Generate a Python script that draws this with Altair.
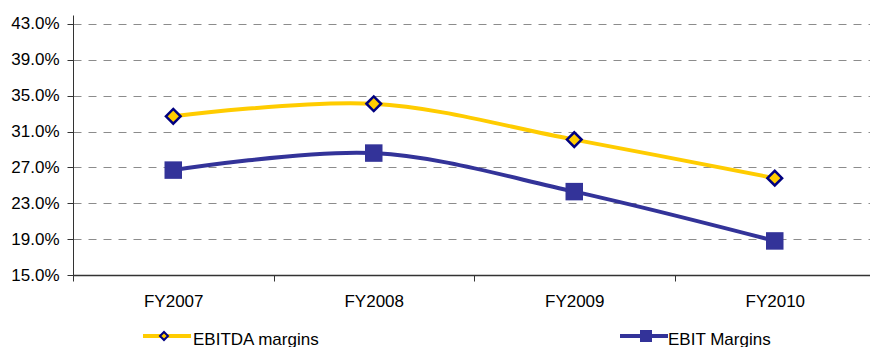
import altair as alt
import pandas as pd

# Margin data (percent)
years = ["FY2007", "FY2008", "FY2009", "FY2010"]
ebitda_margins = [32.7, 34.1, 30.1, 25.8]
ebit_margins = [26.7, 28.6, 24.3, 18.8]
series_names = ["EBITDA margins", "EBIT Margins"]
y_ticks = [15.0, 19.0, 23.0, 27.0, 31.0, 35.0, 39.0, 43.0]

rows = []
for name, vals in zip(series_names, [ebitda_margins, ebit_margins]):
    for i, (yr, v) in enumerate(zip(years, vals)):
        rows.append({"series": name, "year": yr, "pos": i, "margin": v})
df = pd.DataFrame(rows)

# Styling
FONT = "Liberation Sans"
YELLOW = "#FFCC00"
NAVY = "#333399"
DIAMOND_EDGE = "#000080"
AXIS_COLOR = "#333333"

W, H = 797, 260
X_DOMAIN = [-0.5, 3.475]
step_px = W / (X_DOMAIN[1] - X_DOMAIN[0])

# category labels sit in the middle of each band; ticks on band edges
label_expr = "[" + ",".join(f"'{y}'" for y in years) + "][round(datum.value + 0.5)]"

x_enc = alt.X(
    "pos:Q",
    scale=alt.Scale(domain=X_DOMAIN, nice=False, zero=False),
    axis=alt.Axis(
        title=None,
        values=[i - 0.5 for i in range(len(years))],
        labelExpr=label_expr,
        labelOffset=step_px / 2,
        labelAlign="center",
        labelFlush=False,
        labelOverlap=False,
        grid=False,
        tickSize=6,
        labelPadding=12,
        domainWidth=1.5,
    ),
)
y_enc = alt.Y(
    "margin:Q",
    scale=alt.Scale(domain=[15, 44], nice=False, zero=False),
    axis=alt.Axis(
        title=None,
        values=y_ticks,
        labelExpr="format(datum.value, '.1f') + '%'",
        grid=True,
        gridDash=[8, 7],
        gridColor="#8c8c8c",
        gridWidth=1,
        tickSize=6,
        labelPadding=8,
    ),
)

base = alt.Chart(df).encode(x=x_enc, y=y_enc)

ebitda_line = base.transform_filter(alt.datum.series == series_names[0]).mark_line(
    interpolate="catmull-rom", color=YELLOW, strokeWidth=4
)
ebit_line = base.transform_filter(alt.datum.series == series_names[1]).mark_line(
    interpolate="catmull-rom", color=NAVY, strokeWidth=4
)
ebitda_pts = base.transform_filter(alt.datum.series == series_names[0]).mark_point(
    shape="diamond", filled=True, fill=YELLOW, stroke=DIAMOND_EDGE,
    strokeWidth=2.5, size=215, opacity=1
)
ebit_pts = base.transform_filter(alt.datum.series == series_names[1]).mark_square(
    size=306, color=NAVY, opacity=1
)

# Legend below the plot: line sample, marker, label
def legend_item(label, line_x0, line_x1, marker_x, text_x, color, marker):
    src = alt.Data(values=[{"label": label}])
    ly = 321
    line = alt.Chart(src).mark_rule(color=color, strokeWidth=4).encode(
        x=alt.value(line_x0), x2=alt.value(line_x1), y=alt.value(ly)
    )
    mk = alt.Chart(src).mark_point(opacity=1, **marker).encode(
        x=alt.value(marker_x), y=alt.value(ly)
    )
    txt = alt.Chart(src).mark_text(
        align="left", baseline="alphabetic", font=FONT, fontSize=17, color="#000000"
    ).encode(x=alt.value(text_x), y=alt.value(329.5), text="label:N")
    return [line, mk, txt]

legend_layers = legend_item(
    series_names[0], 70, 118, 91, 120, YELLOW,
    dict(shape="diamond", filled=True, fill=YELLOW, stroke=DIAMOND_EDGE, strokeWidth=2, size=64),
) + legend_item(
    series_names[1], 547, 595, 573, 595, NAVY,
    dict(shape="square", filled=True, fill=NAVY, size=144),
)

chart = (
    alt.layer(ebitda_line, ebit_line, ebitda_pts, ebit_pts, *legend_layers)
    .properties(
        width=W,
        height=H,
        autosize=alt.AutoSizeParams(type="none"),
        padding={"left": 73, "top": 15, "right": 0, "bottom": 72},
    )
    .configure_view(stroke=None)
    .configure_axis(
        labelFont=FONT,
        labelFontSize=17,
        labelColor="#000000",
        domainColor=AXIS_COLOR,
        tickColor=AXIS_COLOR,
    )
)

chart.save("out.html", embed_options={"renderer": "svg", "actions": False})
